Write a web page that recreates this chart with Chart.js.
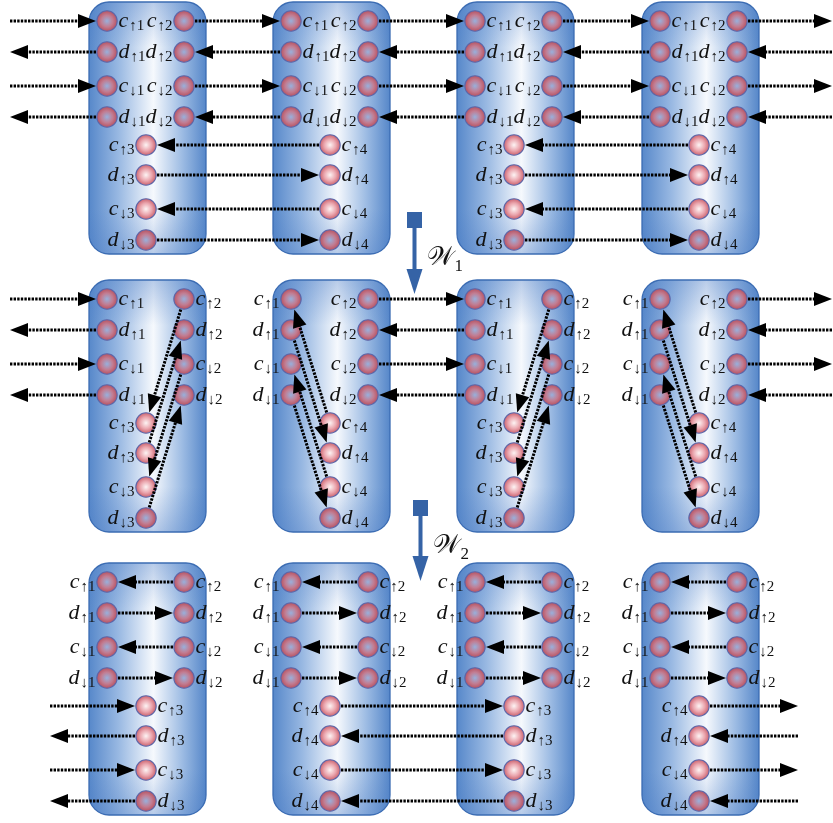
<!DOCTYPE html>
<html lang="en">
<head>
<meta charset="UTF-8" />
<title>W1 / W2 swap network</title>
<script src="https://cdn.jsdelivr.net/npm/chart.js"></script>
<style>
  html, body { margin: 0; padding: 0; background: #fff; }
  #wrap { width: 833px; height: 823px; }
</style>
</head>
<body>
<div id="wrap"><canvas id="net" width="833" height="823"></canvas></div>
<script>
// ---- diagram data (drawing units = page pixels) ----
const bandTop = [2, 280, 563];                            // top of each row of boxes
const boxLeft = [89, 273, 457, 642];                      // left side of each box
const slotRows = [19, 50, 84, 115, 143, 173, 207, 238];   // circle rows inside a box
const slotCols = [18, 95, 57];                            // left col, right col, lower col
const pairLetters = ["c", "d", "c", "d"];
const pairArrows = ["↑", "↑", "↓", "↓"];
const lowerIndex = [3, 4, 3, 4];                          // site number of the lower column
const stepLabels = ["1", "2"];
// which side each label sits on, per band and box
const leftColSide = [["R", "R", "R", "R"], ["R", "L", "R", "L"], ["L", "L", "L", "L"]];
const rightColSide = [["L", "L", "L", "L"], ["R", "L", "R", "L"], ["R", "R", "R", "R"]];
const lowerSide = [["L", "R", "L", "R"], ["L", "R", "L", "R"], ["R", "L", "R", "L"]];

const BOX_W = 117, BOX_H = 252, R = 10.5;

function nodeXY(b, k, col, row) {
  return { x: boxLeft[k] + slotCols[col], y: bandTop[b] + slotRows[row] };
}

// all circles
const circles = [];
bandTop.forEach((_, b) => boxLeft.forEach((_, k) => {
  for (let r = 0; r < 4; r++) {
    circles.push({ ...nodeXY(b, k, 0, r), b, k, col: 0, row: r });
    circles.push({ ...nodeXY(b, k, 1, r), b, k, col: 1, row: r });
  }
  for (let r = 4; r < 8; r++) circles.push({ ...nodeXY(b, k, 2, r), b, k, col: 2, row: r });
}));

// dotted arrows
const links = [];
const N = (b, k, c, r) => ({ ...nodeXY(b, k, c, r), r: R + 0.5 });
const P = (x, y) => ({ x, y, r: 0 });
function link(a, z, headAtZ) { links.push(headAtZ ? [a, z] : [z, a]); }

// top band
for (let r = 0; r < 4; r++) {
  const y = bandTop[0] + slotRows[r], fwd = r % 2 === 0;
  const seq = [P(10, y)];
  for (let k = 0; k < 4; k++) seq.push(N(0, k, 0, r), N(0, k, 1, r));
  seq.push(P(832, y));
  for (let i = 0; i < seq.length; i += 2) link(seq[i], seq[i + 1], fwd);
}
for (let r = 4; r < 8; r++) {
  const fwd = r % 2 === 1;
  link(N(0, 0, 2, r), N(0, 1, 2, r), fwd);
  link(N(0, 2, 2, r), N(0, 3, 2, r), fwd);
}
// middle band
for (let r = 0; r < 4; r++) {
  const y = bandTop[1] + slotRows[r], fwd = r % 2 === 0;
  link(P(10, y), N(1, 0, 0, r), fwd);
  link(N(1, 1, 1, r), N(1, 2, 0, r), fwd);
  link(N(1, 3, 1, r), P(832, y), fwd);
}
[0, 2].forEach(k => {
  link(N(1, k, 1, 0), N(1, k, 2, 4), true);
  link(N(1, k, 2, 5), N(1, k, 1, 1), true);
  link(N(1, k, 1, 2), N(1, k, 2, 6), true);
  link(N(1, k, 2, 7), N(1, k, 1, 3), true);
});
[1, 3].forEach(k => {
  link(N(1, k, 2, 4), N(1, k, 0, 0), true);
  link(N(1, k, 0, 1), N(1, k, 2, 5), true);
  link(N(1, k, 2, 6), N(1, k, 0, 2), true);
  link(N(1, k, 0, 3), N(1, k, 2, 7), true);
});
// bottom band
for (let k = 0; k < 4; k++)
  for (let r = 0; r < 4; r++) link(N(2, k, 0, r), N(2, k, 1, r), r % 2 === 1);
for (let r = 4; r < 8; r++) {
  const y = bandTop[2] + slotRows[r], fwd = r % 2 === 0;
  link(P(50, y), N(2, 0, 2, r), fwd);
  link(N(2, 1, 2, r), N(2, 2, 2, r), fwd);
  link(N(2, 3, 2, r), P(798, y), fwd);
}

// ---- ball images used as point style ----
function makeBall(center, mid, edge) {
  const c = document.createElement("canvas");
  c.width = c.height = 24;
  const g = c.getContext("2d");
  const grad = g.createRadialGradient(12, 12, 0, 12, 12, 10.5);
  grad.addColorStop(0, center);
  grad.addColorStop(0.55, mid);
  grad.addColorStop(1, edge);
  g.beginPath();
  g.arc(12, 12, 10.2, 0, Math.PI * 2);
  g.fillStyle = grad;
  g.fill();
  g.lineWidth = 1.1;
  g.strokeStyle = "#5d66a8";
  g.stroke();
  return c;
}
const ballDark = makeBall("#98b0dc", "#c27d92", "#b6505f");
const ballLight = makeBall("#fdf4f4", "#eba7af", "#c95f6b");

// ---- drawing helpers ----
function boxPath(ctx, x, y, w, h, rad) {
  ctx.beginPath();
  ctx.moveTo(x + rad, y);
  ctx.arcTo(x + w, y, x + w, y + h, rad);
  ctx.arcTo(x + w, y + h, x, y + h, rad);
  ctx.arcTo(x, y + h, x, y, rad);
  ctx.arcTo(x, y, x + w, y, rad);
  ctx.closePath();
}

function drawArrow(ctx, sx, sy, a, z) {
  let ax = sx.getPixelForValue(a.x), ay = sy.getPixelForValue(a.y);
  let zx = sx.getPixelForValue(z.x), zy = sy.getPixelForValue(z.y);
  const len = Math.hypot(zx - ax, zy - ay), ux = (zx - ax) / len, uy = (zy - ay) / len;
  ax += ux * a.r; ay += uy * a.r;
  zx -= ux * z.r; zy -= uy * z.r;
  const hl = 18, hw = 7;
  const bx = zx - ux * hl, by = zy - uy * hl;
  ctx.strokeStyle = "#000";
  ctx.fillStyle = "#000";
  ctx.lineWidth = 3;
  ctx.setLineDash([2.4, 1.2]);
  ctx.beginPath();
  ctx.moveTo(ax, ay);
  ctx.lineTo(bx + ux * 2, by + uy * 2);
  ctx.stroke();
  ctx.setLineDash([]);
  ctx.beginPath();
  ctx.moveTo(zx, zy);
  ctx.lineTo(bx - uy * hw, by + ux * hw);
  ctx.lineTo(bx + uy * hw, by - ux * hw);
  ctx.closePath();
  ctx.fill();
}

const LETTER_FONT = "italic 22px 'Liberation Serif', 'DejaVu Serif', serif";
const SUB_FONT = "15px 'Liberation Serif', 'DejaVu Serif', serif";

function drawLabel(ctx, cx, cy, letter, sub, side) {
  ctx.font = LETTER_FONT;
  const wl = ctx.measureText(letter).width;
  ctx.font = SUB_FONT;
  const ws = ctx.measureText(sub).width;
  const gap = 1;
  const x0 = side === "R" ? cx + R + gap : cx - R - gap - wl - ws - 1;
  ctx.fillStyle = "#111";
  ctx.textAlign = "left";
  ctx.textBaseline = "alphabetic";
  ctx.font = LETTER_FONT;
  ctx.fillText(letter, x0, cy + 5.5);
  ctx.font = SUB_FONT;
  ctx.fillText(sub, x0 + wl + 1, cy + 9);
}

const diagramPlugin = {
  id: "diagram",
  beforeDatasetsDraw(chart) {
    const { ctx, scales: { x: sx, y: sy } } = chart;
    ctx.save();
    bandTop.forEach(top => boxLeft.forEach(left => {
      const x = sx.getPixelForValue(left), y = sy.getPixelForValue(top);
      const w = sx.getPixelForValue(left + BOX_W) - x, h = sy.getPixelForValue(top + BOX_H) - y;
      const hg = ctx.createLinearGradient(x, 0, x + w, 0);
      hg.addColorStop(0, "#5788ca");
      hg.addColorStop(0.25, "#98b8e2");
      hg.addColorStop(0.55, "#f6f9fd");
      hg.addColorStop(0.8, "#9cbbe3");
      hg.addColorStop(1, "#5687c9");
      boxPath(ctx, x, y, w, h, 20);
      ctx.fillStyle = hg;
      ctx.fill();
      const vg = ctx.createLinearGradient(0, y, 0, y + h);
      vg.addColorStop(0, "rgba(70,120,195,0.35)");
      vg.addColorStop(0.18, "rgba(70,120,195,0)");
      vg.addColorStop(0.82, "rgba(70,120,195,0)");
      vg.addColorStop(1, "rgba(70,120,195,0.35)");
      ctx.fillStyle = vg;
      ctx.fill();
      ctx.lineWidth = 1.3;
      ctx.strokeStyle = "#3b6cb3";
      ctx.stroke();
    }));
    ctx.restore();
  },
  afterDatasetsDraw(chart) {
    const { ctx, scales: { x: sx, y: sy } } = chart;
    ctx.save();
    links.forEach(([a, z]) => drawArrow(ctx, sx, sy, a, z));
    ctx.restore();

    ctx.save();
    circles.forEach(p => {
      const cx = sx.getPixelForValue(p.x), cy = sy.getPixelForValue(p.y);
      let letter, sub, side;
      if (p.col < 2) {
        letter = pairLetters[p.row];
        sub = pairArrows[p.row] + (p.col + 1);
        side = p.col === 0 ? leftColSide[p.b][p.k] : rightColSide[p.b][p.k];
      } else {
        letter = pairLetters[p.row - 4];
        sub = pairArrows[p.row - 4] + lowerIndex[p.k];
        side = lowerSide[p.b][p.k];
      }
      drawLabel(ctx, cx, cy, letter, sub, side);
    });
    ctx.restore();

    // W1 / W2 step arrows
    const steps = [{ x: 414.5, top: 212, tip: 294 }, { x: 420.5, top: 500, tip: 581 }];
    ctx.save();
    steps.forEach((s, i) => {
      const cx = sx.getPixelForValue(s.x), top = sy.getPixelForValue(s.top), tip = sy.getPixelForValue(s.tip);
      ctx.fillStyle = "#3563a6";
      ctx.fillRect(cx - 7.5, top, 15, 16);
      ctx.fillRect(cx - 2, top + 16, 4, tip - 25 - top - 16 + 1);
      ctx.beginPath();
      ctx.moveTo(cx - 8, tip - 25);
      ctx.lineTo(cx + 8, tip - 25);
      ctx.lineTo(cx, tip);
      ctx.closePath();
      ctx.fill();
      ctx.fillStyle = "#111";
      ctx.font = "26px 'DejaVu Serif', 'Noto Sans', serif";
      ctx.textAlign = "left";
      const wW = ctx.measureText("𝒲").width;
      ctx.fillText("𝒲", cx + 12, top + 53);
      ctx.font = "17px 'Liberation Serif', 'DejaVu Serif', serif";
      ctx.fillText(stepLabels[i], cx + 12 + wW + 1, top + 59);
    });
    ctx.restore();
  }
};

new Chart(document.getElementById("net"), {
  type: "scatter",
  data: {
    datasets: [{
      data: circles,
      pointRadius: R,
      pointStyle: c => (c.raw && c.raw.col === 2 && c.raw.row < 7) ? ballLight : ballDark,
      pointBackgroundColor: "#c0606e",
      pointBorderColor: "#5d66a8"
    }]
  },
  options: {
    responsive: false,
    animation: false,
    events: [],
    layout: { padding: 0, autoPadding: false },
    scales: {
      x: { type: "linear", min: 0, max: 833, display: false },
      y: { type: "linear", min: 0, max: 823, reverse: true, display: false }
    },
    plugins: { legend: { display: false }, tooltip: { enabled: false } }
  },
  plugins: [diagramPlugin]
});
</script>
</body>
</html>
